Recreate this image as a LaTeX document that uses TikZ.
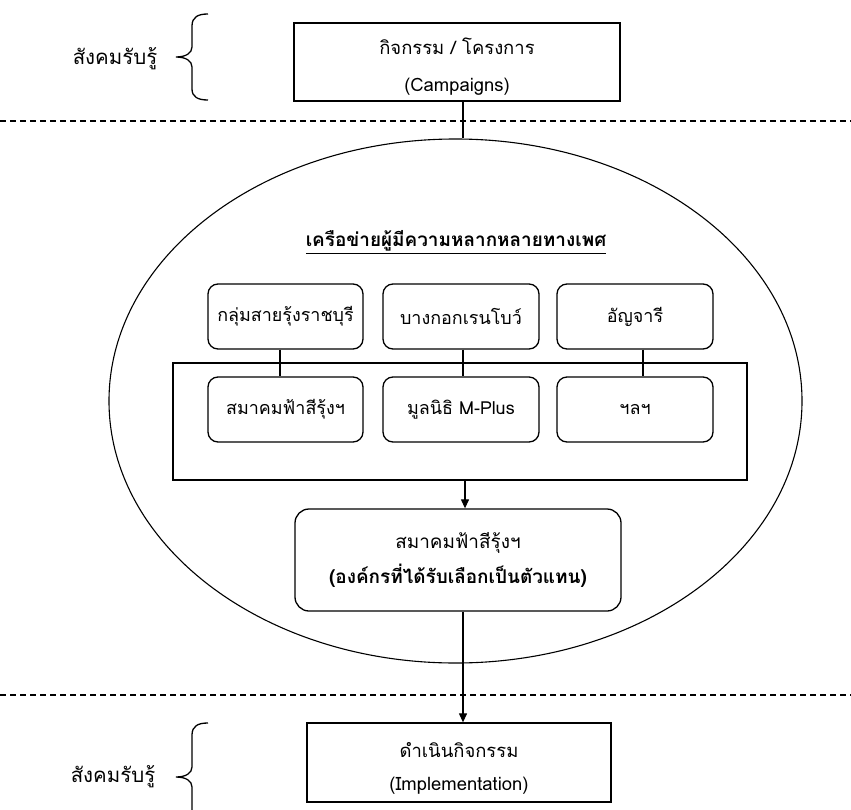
\documentclass[tikz,border=0pt]{standalone}
\usepackage{fontspec}
\newfontfamily\thai[Script=Thai]{Loma}
\usetikzlibrary{shapes.geometric,arrows.meta}
\begin{document}
\begin{tikzpicture}[x=1bp,y=-1bp,
  every node/.style={inner sep=0pt, font=\thai\fontsize{18.5}{37}\selectfont},
  plainbox/.style={draw, line width=1.3bp, align=center},
  rbox/.style={draw, line width=1.3bp, rounded corners=10bp, align=center},
  smallbox/.style={rbox, font=\thai\fontsize{18}{20}\selectfont, minimum height=65bp},
  conn/.style={line width=1.2bp},
  arr/.style={conn, -{Triangle[length=9bp,width=8bp]}},
  sep/.style={line width=1.3bp, dash pattern=on 6bp off 4bp},
  bracepath/.style={line width=1.3bp},
  sidelabel/.style={font=\thai\fontsize{20.5}{22}\selectfont}]
\useasboundingbox (0,0) rectangle (851,810);
\clip (0,0) rectangle (851,810);

% column x
\coordinate (cx) at (463,0);
\coordinate (ax) at (465,0);

% separators
\coordinate (d1l) at (0,121);
\coordinate (d1r) at (851,121);
\coordinate (d2l) at (0,695);
\coordinate (d2r) at (851,695);
\draw[sep] (d1l) -- (d1r);
\draw[sep] (d2l) -- (d2r);

% top box
\node[plainbox, minimum width=326bp, minimum height=78bp] (top) at (457,62)
  {\rule{0pt}{26bp}กิจกรรม / โครงการ\\(Campaigns)};

% ellipse
\node[draw, ellipse, line width=1.1bp, minimum width=693bp, minimum height=524bp] (ell) at (455.5,401) {};

\draw[conn] (top.south -| cx) -- (ell.north -| cx);

% title
\node[font=\thai\fontsize{19}{22}\selectfont] (title) at (456,242) {\bfseries\underline{เครือข่ายผู้มีความหลากหลายทางเพศ}};

% group rectangle
\node[plainbox, minimum width=574bp, minimum height=117bp] (grp) at (460,421.5) {};

% top row
\node[smallbox, minimum width=155bp] (t1) at (285.5,316.5) {กลุ่มสายรุ้งราชบุรี};
\node[smallbox, minimum width=156bp] (t2) at (461,316.5) {บางกอกเรนโบว์};
\node[smallbox, minimum width=156bp] (t3) at (635,316.5) {อัญจารี};

% bottom row
\node[smallbox, minimum width=155bp] (b1) at (285.5,409.5) {สมาคมฟ้าสีรุ้งฯ};
\node[smallbox, minimum width=156bp] (b2) at (461,409.5) {มูลนิธิ M-Plus};
\node[smallbox, minimum width=156bp] (b3) at (635,409.5) {ฯลฯ};

\draw[conn] ([xshift=-5.5bp]t1.south) -- ([xshift=-5.5bp]b1.north);
\draw[conn] ([xshift=2bp]t2.south) -- ([xshift=2bp]b2.north);
\draw[conn] ([xshift=8bp]t3.south) -- ([xshift=8bp]b3.north);

% representative
\node[rbox, rounded corners=14bp, minimum width=326bp, minimum height=102bp,
  font=\thai\fontsize{19}{35}\selectfont] (rep) at (458,560)
  {สมาคมฟ้าสีรุ้งฯ\\\textbf{(องค์กรที่ได้รับเลือกเป็นตัวแทน)}};

\draw[arr] (grp.south -| ax) -- (rep.north -| ax);

% bottom box
\node[plainbox, minimum width=304bp, minimum height=79bp,
  font=\thai\fontsize{18.5}{33}\selectfont] (bot) at (459,762.5)
  {\rule{0pt}{27bp}ดำเนินกิจกรรม\\(Implementation)};

\draw[arr] (rep.south -| cx) -- (bot.north -| cx);

% side labels
\node[sidelabel] (lab1) at (115,59) {สังคมรับรู้};
\node[sidelabel] (lab2) at (113,777) {สังคมรับรู้};

% braces
\draw[bracepath] (208,14) .. controls (198,14) and (192,17) .. (192,26) -- (192,47)
  .. controls (192,53) and (186,57) .. (176,57)
  .. controls (186,57) and (192,61) .. (192,67) -- (192,89)
  .. controls (192,97) and (198,100) .. (208,100);
\draw[bracepath] (208,723) .. controls (198,723) and (192,726) .. (192,735) -- (192,767)
  .. controls (192,773) and (186,777) .. (176,777)
  .. controls (186,777) and (192,781) .. (192,787) -- (192,819)
  .. controls (192,827) and (198,831) .. (208,831);
\end{tikzpicture}
\end{document}
